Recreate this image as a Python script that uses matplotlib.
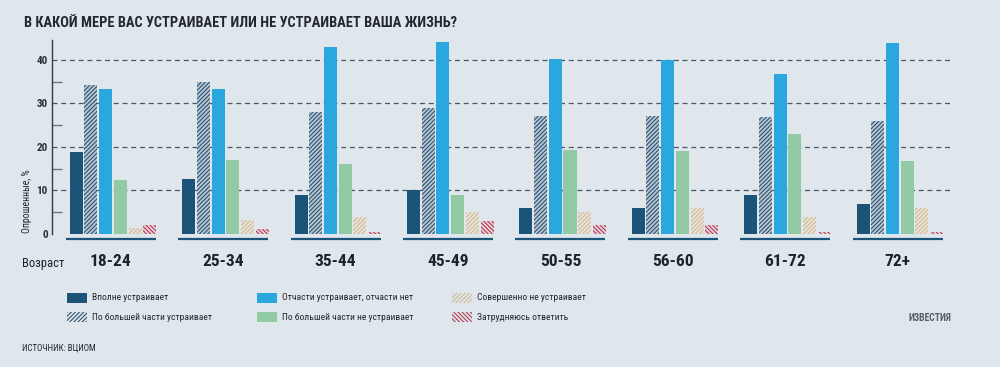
import matplotlib
matplotlib.use("Agg")
import matplotlib.pyplot as plt
import numpy as np
from matplotlib.patches import Rectangle

title = "В КАКОЙ МЕРЕ ВАС УСТРАИВАЕТ ИЛИ НЕ УСТРАИВАЕТ ВАША ЖИЗНЬ?"
ages = ["18-24", "25-34", "35-44", "45-49", "50-55", "56-60", "61-72", "72+"]
series_names = ["Вполне устраивает", "По большей части устраивает",
                "Отчасти устраивает, отчасти нет", "По большей части не устраивает",
                "Совершенно не устраивает", "Затрудняюсь ответить"]
fully = [18.8, 12.7, 9.0, 10.1, 6.0, 6.0, 9.0, 6.9]
mostly = [34.3, 35.0, 28.0, 29.0, 27.2, 27.0, 26.8, 25.9]
partly = [33.3, 33.3, 43.0, 44.0, 40.2, 40.0, 36.8, 43.8]
mostly_not = [12.5, 16.9, 16.0, 9.0, 19.2, 19.1, 22.9, 16.8]
not_at_all = [1.3, 3.3, 4.0, 5.0, 5.0, 6.0, 3.9, 5.9]
hard_to_say = [2.1, 1.2, 0.4, 3.0, 2.0, 2.1, 0.4, 0.4]
yticks = [0, 10, 20, 30, 40]
source = "ИСТОЧНИК: ВЦИОМ"

series = [fully, mostly, partly, mostly_not, not_at_all, hard_to_say]
styles = [
    dict(fc="#1b5478", hatch=None, hc=None),
    dict(fc="#b9c7d3", hatch="////////", hc="#2c5272"),
    dict(fc="#2aa7df", hatch=None, hc=None),
    dict(fc="#93caa6", hatch=None, hc=None),
    dict(fc="#e8e4da", hatch="////////", hc="#cfba96"),
    dict(fc="#e9d3da", hatch="\\\\\\\\\\\\\\\\", hc="#b23a55"),
]

BG = "#dfe6ec"
FONT = ["Liberation Sans Narrow", "Roboto Condensed", "Roboto", "DejaVu Sans"]
plt.rcParams["font.family"] = FONT
plt.rcParams["hatch.linewidth"] = 0.8

W, H = 1000, 367
fig = plt.figure(figsize=(W / 100, H / 100), dpi=100)
fig.patch.set_facecolor(BG)

ax = fig.add_axes([52 / W, (H - 234) / H, 900 / W, (234 - 40) / H])
ax.set_facecolor(BG)
ax.set_xlim(-0.543, 7.464)
ax.set_ylim(0, 44.55)

x = np.arange(len(ages))
step = 0.131
bw = 0.116
for j, (vals, st) in enumerate(zip(series, styles)):
    pos = x + (j - 2.5) * step
    bars = ax.bar(pos, vals, width=bw, color=st["fc"], linewidth=0,
                  hatch=st["hatch"], zorder=3)
    if st["hatch"]:
        for b in bars:
            b.set_edgecolor(st["hc"])
            b.set_linewidth(0)

for g in range(1, 5):
    ax.axhline(g * 10, color="#4a5866", lw=0.9, ls=(0, (4, 3)), zorder=1)

for s in ["top", "right", "bottom"]:
    ax.spines[s].set_visible(False)
ax.spines["left"].set_color("#333a40")
ax.spines["left"].set_linewidth(1.0)

ax.set_yticks(yticks)
ax.set_yticklabels([str(v) for v in yticks], fontsize=8, fontweight="bold", color="#2a2f35")
ax.tick_params(axis="y", which="major", length=0, pad=3)
ax.set_yticks([5, 15, 25, 35], minor=True)
ax.tick_params(axis="y", which="minor", direction="in", length=7, color="#6a7680", width=1)
ax.set_xticks([])

for i in x:
    ax.plot([i - 0.42, i + 0.38], [-1.1, -1.1], color="#1b5478", lw=1.6, clip_on=False,
            solid_capstyle="butt", zorder=4)

for i, a in enumerate(ages):
    ax.text(i - 0.02, -6.3, a, ha="center", va="center", fontsize=12.5, fontweight="bold",
            color="#1e2328", clip_on=False)
fig.text(22 / W, 1 - 263 / H, "Возраст", ha="left", va="center", fontsize=9, color="#1e2328")

fig.text(27 / W, 1 - 201 / H, "Опрошенные, %", rotation=90, ha="center", va="center",
         fontsize=7, color="#1e2328")

fig.text(24 / W, 1 - 23 / H, title, ha="left", va="center", fontsize=10.4, fontweight="bold",
         color="#23282d")

cols = [67, 257, 452]
rows = [298, 317]
order = [(0, 0, 0), (1, 0, 1), (2, 1, 0), (3, 1, 1), (4, 2, 0), (5, 2, 1)]
for si, c, r in order:
    st = styles[si]
    x0 = cols[c] / W
    y0 = 1 - (rows[r] + 5) / H
    rect = Rectangle((x0, y0), 20 / W, 10 / H, transform=fig.transFigure,
                     facecolor=st["fc"] if st["hatch"] is None else BG,
                     edgecolor=st["hc"] if st["hc"] else st["fc"], linewidth=0,
                     hatch=st["hatch"])
    fig.patches.append(rect)
    fig.text((cols[c] + 25) / W, 1 - rows[r] / H, series_names[si], ha="left", va="center",
             fontsize=6.8, color="#23282d")

fig.text(22 / W, 1 - 348 / H, source, ha="left", va="center", fontsize=6.4, color="#23282d")
fig.text(930 / W, 1 - 318 / H, "ИЗВЕСТИЯ", ha="center", va="center", fontsize=7,
         fontweight="bold", color="#5a5f64")

fig.savefig("out.png", dpi=100, facecolor=BG)
